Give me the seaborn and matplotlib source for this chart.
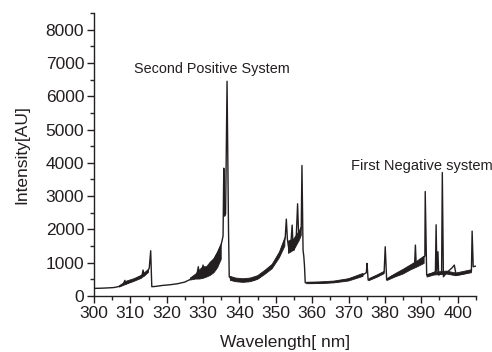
import matplotlib
matplotlib.use("Agg")
import matplotlib.pyplot as plt
import seaborn as sns
import numpy as np
import pandas as pd
from matplotlib.ticker import MultipleLocator

# ---- data ----
wavelength = [300.0, 302.0, 304.0, 305.5, 307.0, 308.0, 308.5, 308.7, 309.5, 310.5,
              311.5, 312.5, 313.2, 313.5, 313.8, 314.5, 315.2, 315.6, 315.9, 317.0,
              319.0, 321.0, 323.0, 325.0, 326.5, 327.5, 328.3, 328.7, 329.0, 329.5,
              330.0, 330.3, 331.0, 332.0, 333.0, 334.0, 335.0, 335.5, 335.7, 335.9,
              336.2, 336.6, 337.0, 337.2, 338.0, 340.0, 342.0, 344.0, 345.5, 347.0,
              348.5, 350.0, 351.0, 352.0, 352.6, 352.9, 353.2, 353.7, 354.1, 354.5,
              354.8, 355.0, 355.6, 356.0, 356.3, 356.8, 357.0, 357.2, 357.5, 357.7,
              357.9, 358.1, 360.0, 362.0, 364.0, 366.0, 368.0, 370.0, 372.0, 374.0,
              374.9, 375.1, 375.4, 377.0, 379.0, 379.8, 380.1, 380.5, 382.0, 384.0,
              386.0, 387.5, 388.2, 388.4, 388.6, 389.5, 390.5, 391.0, 391.1, 391.5,
              393.0, 393.9, 394.1, 394.3, 394.6, 394.8, 395.6, 395.8, 396.1, 397.0,
              397.8, 398.5, 399.1, 399.6, 401.0, 402.5, 403.8, 404.0, 404.3, 405.0]
intensity = [230, 235, 245, 255, 290, 340, 470, 360, 400, 450,
             500, 560, 600, 780, 600, 680, 840, 1360, 280, 290,
             320, 340, 370, 420, 500, 560, 640, 880, 600, 700,
             930, 650, 800, 950, 1100, 1300, 1550, 1800, 3840, 2400,
             2470, 6450, 2000, 580, 480, 460, 450, 480, 560, 700,
             840, 1050, 1250, 1500, 1750, 2310, 1700, 1330, 1500, 2130,
             1400, 1380, 1700, 2770, 1780, 1950, 2050, 3920, 1380, 1200,
             900, 400, 380, 390, 400, 420, 450, 500, 550, 640,
             700, 980, 480, 560, 660, 720, 1480, 480, 600, 680,
             780, 900, 1000, 1530, 1000, 1050, 1150, 1200, 3140, 630,
             680, 730, 2140, 730, 1330, 630, 680, 3710, 580, 700,
             780, 850, 930, 630, 650, 690, 750, 1950, 880, 900]

# noisy bands (lower / upper envelope), NaN separates band regions
nan = float("nan")
band_wl = [307.0, 309.0, 311.0, 313.0, 315.0, nan,
           326.5, 328.0, 329.0, 330.0, 331.0, 332.0, 333.0, 334.0, 335.0, nan,
           337.5, 339.0, 341.0, 343.0, 345.0, 347.0, 349.0, 351.0, 352.5, nan,
           353.5, 355.0, 356.5, 357.0, nan,
           358.5, 362.0, 366.0, 370.0, 374.0, nan,
           375.6, 378.0, 379.8, nan,
           380.7, 383.0, 385.0, 387.0, 389.0, 390.8, nan,
           391.6, 393.5, 397.0, 399.5, 403.8]
band_lo = [270, 360, 440, 530, 710, nan,
           480, 510, 510, 530, 570, 620, 700, 850, 1100, nan,
           470, 430, 410, 430, 500, 650, 820, 1150, 1500, nan,
           1280, 1380, 1680, 1820, nan,
           370, 375, 395, 450, 590, nan,
           460, 570, 670, nan,
           470, 580, 660, 780, 880, 980, nan,
           570, 630, 660, 610, 700]
band_hi = [310, 450, 520, 620, 800, nan,
           540, 660, 780, 880, 880, 1020, 1120, 1320, 1560, nan,
           590, 540, 520, 540, 610, 770, 950, 1320, 1750, nan,
           1650, 1720, 1960, 2080, nan,
           415, 425, 450, 520, 680, nan,
           520, 640, 740, nan,
           530, 680, 800, 930, 1060, 1200, nan,
           640, 710, 750, 690, 790]

x_ticks = [300, 310, 320, 330, 340, 350, 360, 370, 380, 390, 400]
y_ticks = [0, 1000, 2000, 3000, 4000, 5000, 6000, 7000, 8000]

# ---- style ----
sns.set_style("ticks")
plt.rcParams["font.family"] = ["Liberation Sans", "DejaVu Sans"]
line_color = "#231f20"

fig = plt.figure(figsize=(4.92, 3.52), dpi=100)
ax = fig.add_axes([0.191, 0.159, 0.776, 0.804])

df = pd.DataFrame({"Wavelength": wavelength, "Intensity": intensity})
ax.fill_between(band_wl, band_lo, band_hi, color=line_color, linewidth=0.6,
                edgecolor=line_color)
sns.lineplot(data=df, x="Wavelength", y="Intensity", ax=ax, color=line_color,
             linewidth=1.0, estimator=None, sort=False)

ax.set_xlim(300, 405)
ax.set_ylim(0, 8500)
ax.set_xticks(x_ticks)
ax.set_yticks(y_ticks)
ax.xaxis.set_minor_locator(MultipleLocator(5))
ax.yaxis.set_minor_locator(MultipleLocator(500))
ax.tick_params(axis="both", which="major", length=5, width=1, labelsize=12.5,
               colors="#231f20", direction="out", pad=2)
ax.tick_params(axis="both", which="minor", length=3, width=1, direction="out")
for s in ["left", "bottom"]:
    ax.spines[s].set_linewidth(1.0)
    ax.spines[s].set_color("#231f20")
ax.spines["top"].set_visible(False)
ax.spines["right"].set_visible(False)

ax.set_xlabel("Wavelength[ nm]", fontsize=12.5, labelpad=10, color="#231f20")
ax.set_ylabel("Intensity[AU]", fontsize=12.5, labelpad=12, color="#231f20")

ax.text(332.4, 6830, "Second Positive System", fontsize=10.4, ha="center",
        va="center", color="#231f20")
ax.text(370.6, 3910, "First Negative system", fontsize=10.5, ha="left",
        va="center", color="#231f20", clip_on=False)

fig.savefig("out.png", dpi=100)
